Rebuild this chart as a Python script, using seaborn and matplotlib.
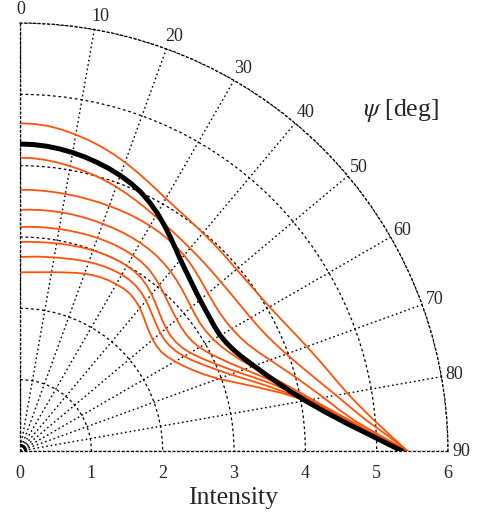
import numpy as np
import pandas as pd
import matplotlib
matplotlib.use("Agg")
import matplotlib.pyplot as plt
import seaborn as sns

# angle psi [deg] (0 = vertical, 90 = horizontal), intensity of each curve
psi_deg = [0, 2.5, 5, 7.5, 10, 12.5, 15, 17.5, 20, 22.5, 25, 27.5, 30, 32.5, 35, 37.5,
           40, 42.5, 45, 47.5, 50, 52.5, 55, 57.5, 60, 62.5, 65, 67.5, 70, 72.5, 75,
           77.5, 80, 82.5, 85, 87.5, 90]

black_r = [4.304, 4.300, 4.289, 4.271, 4.248, 4.220, 4.187, 4.151, 4.110, 4.062, 4.005,
           3.932, 3.850, 3.760, 3.668, 3.580, 3.500, 3.435, 3.380, 3.333, 3.295, 3.268,
           3.250, 3.237, 3.240, 3.269, 3.320, 3.395, 3.490, 3.598, 3.727, 3.877, 4.062,
           4.291, 4.575, 4.931, 5.355]

o1_r = [4.594, 4.589, 4.573, 4.543, 4.504, 4.462, 4.415, 4.363, 4.307, 4.248, 4.19,
        4.136, 4.088, 4.052, 4.025, 4.005, 3.99, 3.978, 3.97, 3.963, 3.962, 3.970,
        3.985, 4.008, 4.04, 4.085, 4.14, 4.206, 4.28, 4.361, 4.45, 4.546, 4.66, 4.805,
        4.98, 5.19, 5.43]
o2_r = [4.112, 4.108, 4.096, 4.078, 4.055, 4.031, 4.005, 3.975, 3.942, 3.905, 3.868,
        3.832, 3.798, 3.770, 3.746, 3.726, 3.71, 3.698, 3.689, 3.683, 3.681, 3.685,
        3.695, 3.711, 3.735, 3.770, 3.82, 3.889, 3.975, 4.078, 4.20, 4.340, 4.50, 4.674,
        4.88, 5.147, 5.43]
o3_r = [3.663, 3.663, 3.662, 3.661, 3.66, 3.659, 3.657, 3.657, 3.656, 3.656, 3.655,
        3.651, 3.645, 3.636, 3.622, 3.604, 3.58, 3.547, 3.51, 3.473, 3.44, 3.417,
        3.405, 3.409, 3.43, 3.469, 3.53, 3.619, 3.73, 3.858, 4.0, 4.151, 4.32, 4.501,
        4.73, 5.05, 5.43]
o4_r = [3.38, 3.386, 3.39, 3.393, 3.395, 3.396, 3.395, 3.393, 3.39, 3.388, 3.385,
        3.379, 3.37, 3.358, 3.34, 3.315, 3.285, 3.249, 3.21, 3.170, 3.135, 3.108,
        3.095, 3.103, 3.13, 3.179, 3.25, 3.343, 3.46, 3.604, 3.77, 3.952, 4.16, 4.398,
        4.68, 5.00, 5.43]
o5_r = [3.14, 3.146, 3.15, 3.155, 3.16, 3.165, 3.17, 3.175, 3.178, 3.18, 3.18,
        3.176, 3.167, 3.152, 3.127, 3.087, 3.04, 2.989, 2.94, 2.900, 2.87, 2.849,
        2.845, 2.863, 2.905, 2.979, 3.08, 3.203, 3.35, 3.521, 3.71, 3.909, 4.13, 4.373,
        4.66, 5.00, 5.43]
o6_r = [2.93, 2.935, 2.94, 2.947, 2.955, 2.965, 2.975, 2.985, 2.993, 2.999, 3.003,
        3.003, 2.998, 2.986, 2.963, 2.922, 2.87, 2.812, 2.755, 2.708, 2.675, 2.659,
        2.665, 2.697, 2.755, 2.84, 2.95, 3.082, 3.24, 3.435, 3.65, 3.867, 4.10, 4.349,
        4.64, 5.00, 5.43]
o7_r = [2.72, 2.726, 2.735, 2.744, 2.755, 2.769, 2.785, 2.803, 2.82, 2.834, 2.845,
        2.853, 2.855, 2.848, 2.83, 2.795, 2.75, 2.697, 2.645, 2.601, 2.57, 2.557,
        2.565, 2.598, 2.655, 2.74, 2.85, 2.981, 3.14, 3.336, 3.56, 3.807, 4.07, 4.329,
        4.625, 5.00, 5.43]
o8_r = [2.505, 2.508, 2.515, 2.528, 2.545, 2.566, 2.59, 2.618, 2.645, 2.668, 2.685,
        2.696, 2.70, 2.701, 2.69, 2.659, 2.615, 2.56, 2.505, 2.461, 2.43, 2.415,
        2.42, 2.454, 2.51, 2.583, 2.68, 2.80, 2.96, 3.184, 3.45, 3.756, 4.07, 4.336,
        4.625, 4.99, 5.43]

# little thick arc at the origin
origin_psi = [0, 15, 30, 45, 60, 75, 90]
origin_r = [0.08, 0.08, 0.08, 0.08, 0.08, 0.08, 0.08]

angle_ticks = list(range(0, 91, 10))
r_ticks = [0, 1, 2, 3, 4, 5, 6]

sns.set_style("white")
plt.rcParams["font.family"] = ["Liberation Serif", "DejaVu Serif"]
plt.rcParams["mathtext.fontset"] = "stix"

fig = plt.figure(figsize=(4.83, 5.15), dpi=100)
ax = fig.add_axes([20 / 483, 64 / 515, 428 / 483, 428 / 515], projection="polar")
ax.set_theta_zero_location("N")
ax.set_theta_direction(-1)
ax.set_thetamin(0)
ax.set_thetamax(90)
ax.set_rlim(0, 6)
ax.set_thetagrids(angle_ticks, labels=[""] * len(angle_ticks))
ax.set_rgrids(r_ticks[1:], labels=[""] * (len(r_ticks) - 1))
ax.xaxis.grid(True, linestyle=(0, (1.2, 2.0)), color="black", lw=1.0)
ax.yaxis.grid(True, linestyle=(0, (2.2, 2.2)), color="black", lw=0.9)
ax.tick_params(length=0)
for sp in ax.spines.values():
    sp.set_linestyle((0, (1.5, 2.2)))
    sp.set_linewidth(0.9)
    sp.set_color("black")

orange = "#ff5208"
theta = np.radians(psi_deg)
for r in [o1_r, o2_r, o3_r, o4_r, o5_r, o6_r, o7_r, o8_r]:
    df = pd.DataFrame({"theta": theta, "r": r})
    sns.lineplot(data=df, x="theta", y="r", ax=ax, color=orange, lw=1.3,
                 sort=False, estimator=None)

df = pd.DataFrame({"theta": theta, "r": black_r})
sns.lineplot(data=df, x="theta", y="r", ax=ax, color="black", lw=3.6,
             sort=False, estimator=None)

df = pd.DataFrame({"theta": np.radians(origin_psi), "r": origin_r})
sns.lineplot(data=df, x="theta", y="r", ax=ax, color="black", lw=2.2,
             sort=False, estimator=None)

ax.set_xlabel("")
ax.set_ylabel("")

# angle labels outside the outer arc
for a in angle_ticks:
    s = np.sin(np.radians(a))
    c = np.cos(np.radians(a))
    ax.annotate(str(a), xy=(np.radians(a), 6), xytext=(-4 + 8 * s, 13.5 * c),
                textcoords="offset pixels", ha="left", va="center",
                fontsize=13, annotation_clip=False)

# intensity labels below the horizontal axis
for k in r_ticks:
    ax.annotate(str(k), xy=(np.pi / 2, k), xytext=(0, -22),
                textcoords="offset pixels", ha="center", va="center",
                fontsize=13, annotation_clip=False)

fig.text(233 / 483, 1 - 498 / 515, "Intensity", ha="center", va="center", fontsize=18.5)
fig.text(401 / 483, 1 - 110 / 515, r"$\psi$ [deg]", ha="center", va="center", fontsize=18.5)

fig.savefig("out.png", dpi=100)
